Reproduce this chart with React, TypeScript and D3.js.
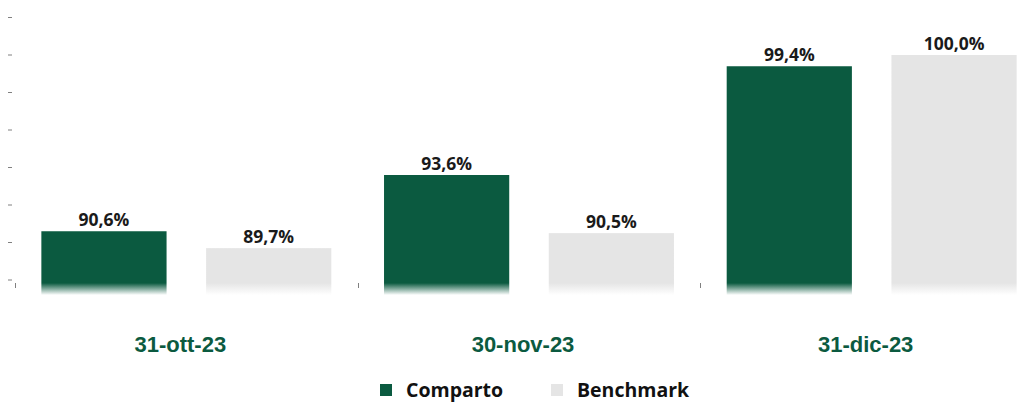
import React from "react";
import * as d3 from "d3";

const categories = ["31-ott-23", "30-nov-23", "31-dic-23"];
const seriesNames = ["Comparto", "Benchmark"];
const comparto = [90.6, 93.6, 99.4];
const benchmark = [89.7, 90.5, 100.0];
const yTicks = [88, 90, 92, 94, 96, 98, 100, 102];
const baseValue = 87.2;

const W = 1036;
const H = 403;
const colors = ["#0b5a40", "#e5e5e5"];

export default function App() {
  const x = d3.scaleBand<string>().domain(categories).range([15, 1043]).paddingInner(0).paddingOuter(0);
  const inner = d3.scaleBand<string>().domain(seriesNames).range([0, x.bandwidth()]).paddingInner(0.24).paddingOuter(0.16);
  const y = d3.scaleLinear().domain([88, 102]).range([280, 17.5]);
  const yBase = y(baseValue);
  const fmt = (v: number) => v.toFixed(1).replace(".", ",") + "%";
  const data = [comparto, benchmark];
  const fadeStop = 283;

  return (
    <svg width={W} height={H} style={{ position: "absolute", left: 0, top: 0, display: "block" }}>
      <defs>
        {colors.map((c, i) => (
          <linearGradient key={i} id={"fade" + i} gradientUnits="userSpaceOnUse" x1="0" x2="0" y1={fadeStop} y2={yBase}>
            <stop offset="0" stopColor={c} stopOpacity={1} />
            <stop offset="1" stopColor={c} stopOpacity={0} />
          </linearGradient>
        ))}
      </defs>
      <rect width={W} height={H} fill="#fff" />
      {yTicks.map((t) => (
        <line key={t} x1={8} x2={12} y1={y(t)} y2={y(t)} stroke="#808080" strokeWidth={1} />
      ))}
      {[0, 1, 2].map((i) => {
        const xx = Math.round(15 + i * x.bandwidth()) + 0.5;
        return <line key={i} x1={xx} x2={xx} y1={283} y2={288} stroke="#808080" strokeWidth={1} />;
      })}
      {categories.map((c, ci) => (
        <g key={c}>
          {seriesNames.map((s, si) => {
            const v = data[si][ci];
            const bx = (x(c) as number) + (inner(s) as number);
            const top = y(v);
            return (
              <g key={s}>
                <rect x={bx} y={top} width={inner.bandwidth()} height={yBase - top} fill={`url(#fade${si})`} />
                <text x={bx + inner.bandwidth() / 2} y={top - 5} textAnchor="middle" fontFamily="'Open Sans', sans-serif" fontWeight={700} fontSize={17.5} fill="#1a1a1a">
                  {fmt(v)}
                </text>
              </g>
            );
          })}
          <text x={(x(c) as number) + x.bandwidth() / 2 - 6} y={352} textAnchor="middle" fontFamily="'Liberation Sans', Arial, sans-serif" fontWeight={700} fontSize={22} fill="#0b5a40">
            {c}
          </text>
        </g>
      ))}
      {seriesNames.map((s, i) => {
        const lx = i === 0 ? 380 : 551;
        return (
          <g key={s}>
            <rect x={lx} y={384} width={12} height={12} fill={colors[i]} />
            <text x={lx + 26} y={397} fontFamily="'Open Sans', sans-serif" fontWeight={700} fontSize={19.5} fill="#111">
              {s}
            </text>
          </g>
        );
      })}
    </svg>
  );
}
